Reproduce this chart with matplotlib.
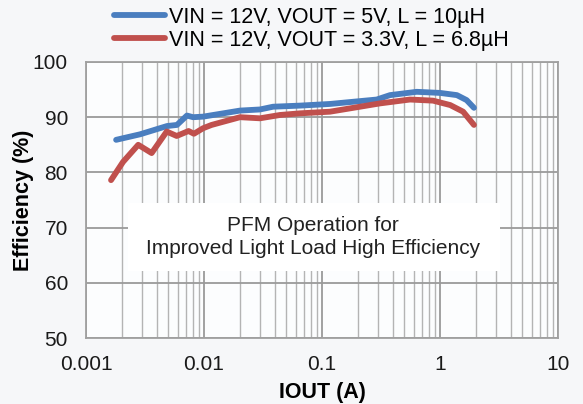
import matplotlib
matplotlib.use("Agg")
import matplotlib.pyplot as plt
from matplotlib.lines import Line2D
from matplotlib.patches import Rectangle
from matplotlib.ticker import FixedLocator, NullFormatter

plt.rcParams['font.family'] = ['Liberation Sans', 'DejaVu Sans']

# ---- data ----
blue_x = [0.00180, 0.00287, 0.00486, 0.00590, 0.00717, 0.00807, 0.00982, 0.0202, 0.0298,
          0.0385, 0.0652, 0.117, 0.291, 0.377, 0.635, 1.0, 1.39, 1.68, 1.94]
blue_y = [85.9, 86.9, 88.4, 88.6, 90.3, 90.0, 90.1, 91.2, 91.4,
          91.9, 92.1, 92.4, 93.2, 94.0, 94.6, 94.4, 94.0, 93.1, 91.7]
red_x = [0.00163, 0.00206, 0.00277, 0.00360, 0.00483, 0.00587, 0.00740, 0.00822, 0.00982,
         0.0116, 0.0202, 0.0298, 0.0440, 0.0652, 0.117, 0.310, 0.557, 0.873, 1.22, 1.57, 1.94]
red_y = [78.6, 81.9, 85.0, 83.5, 87.4, 86.6, 87.5, 87.0, 88.0,
         88.6, 90.0, 89.8, 90.4, 90.7, 91.0, 92.5, 93.2, 93.0, 92.2, 91.0, 88.6]
series_labels = ["VIN = 12V, VOUT = 5V, L = 10\u00b5H", "VIN = 12V, VOUT = 3.3V, L = 6.8\u00b5H"]
x_ticks = [0.001, 0.01, 0.1, 1, 10]
x_tick_labels = ["0.001", "0.01", "0.1", "1", "10"]
y_ticks = [50, 60, 70, 80, 90, 100]
annotation = "PFM Operation for\nImproved Light Load High Efficiency"

BLUE = "#4a7ebf"
RED = "#c0504d"

fig = plt.figure(figsize=(5.83, 4.04), dpi=100, facecolor="#f6f7f9")
ax = fig.add_axes([86/583, 1-338/404, (558-86)/583, (338-62)/404])
ax.set_facecolor("#fcfdfe")
ax.set_xscale("log")
ax.set_xlim(0.001, 10)
ax.set_ylim(50, 100)

minor = [m * 10.0**e for e in range(-3, 1) for m in range(2, 10)]
ax.xaxis.set_major_locator(FixedLocator(x_ticks))
ax.xaxis.set_minor_locator(FixedLocator(minor))
ax.xaxis.set_minor_formatter(NullFormatter())
ax.set_xticks(x_ticks, x_tick_labels)
ax.set_yticks(y_ticks)
ax.grid(True, which="major", color="#9a9a9a", lw=1.3, zorder=0)
ax.grid(True, which="minor", axis="x", color="#b4b4b4", lw=1.0, zorder=0)
ax.tick_params(which="both", length=0, labelsize=15, colors="#1a1a1a")
ax.tick_params(axis="x", pad=12)
ax.tick_params(axis="y", pad=13)
for s in ax.spines.values():
    s.set_color("#a0a0a0")
    s.set_linewidth(1.3)
ax.set_axisbelow(True)

# annotation box
ax.add_patch(Rectangle((0.089, 0.243), 0.788, 0.246, transform=ax.transAxes,
                       facecolor="white", edgecolor="none", zorder=2))
ax.text(0.481, 0.365, annotation, transform=ax.transAxes, ha="center", va="center",
        fontsize=15, color="#222222", linespacing=1.25, zorder=3)

ax.plot(blue_x, blue_y, color=BLUE, lw=4.2, solid_capstyle="round", solid_joinstyle="round", zorder=4)
ax.plot(red_x, red_y, color=RED, lw=4.2, solid_capstyle="round", solid_joinstyle="round", zorder=4)

ax.set_xlabel("IOUT (A)", fontsize=15.5, fontweight="bold", labelpad=6)
ax.set_ylabel("Efficiency (%)", fontsize=15.5, fontweight="bold", labelpad=-1)

handles = [Line2D([], [], color=BLUE, lw=4.2, solid_capstyle="round"),
           Line2D([], [], color=RED, lw=4.2, solid_capstyle="round")]
fig.legend(handles, series_labels, loc="upper left", bbox_to_anchor=(103/583, 1.01),
           frameon=False, fontsize=15.5, handlelength=2.4, handletextpad=0.15,
           labelspacing=0.1, borderaxespad=0.1)

fig.savefig("out.png", dpi=100, facecolor=fig.get_facecolor())
